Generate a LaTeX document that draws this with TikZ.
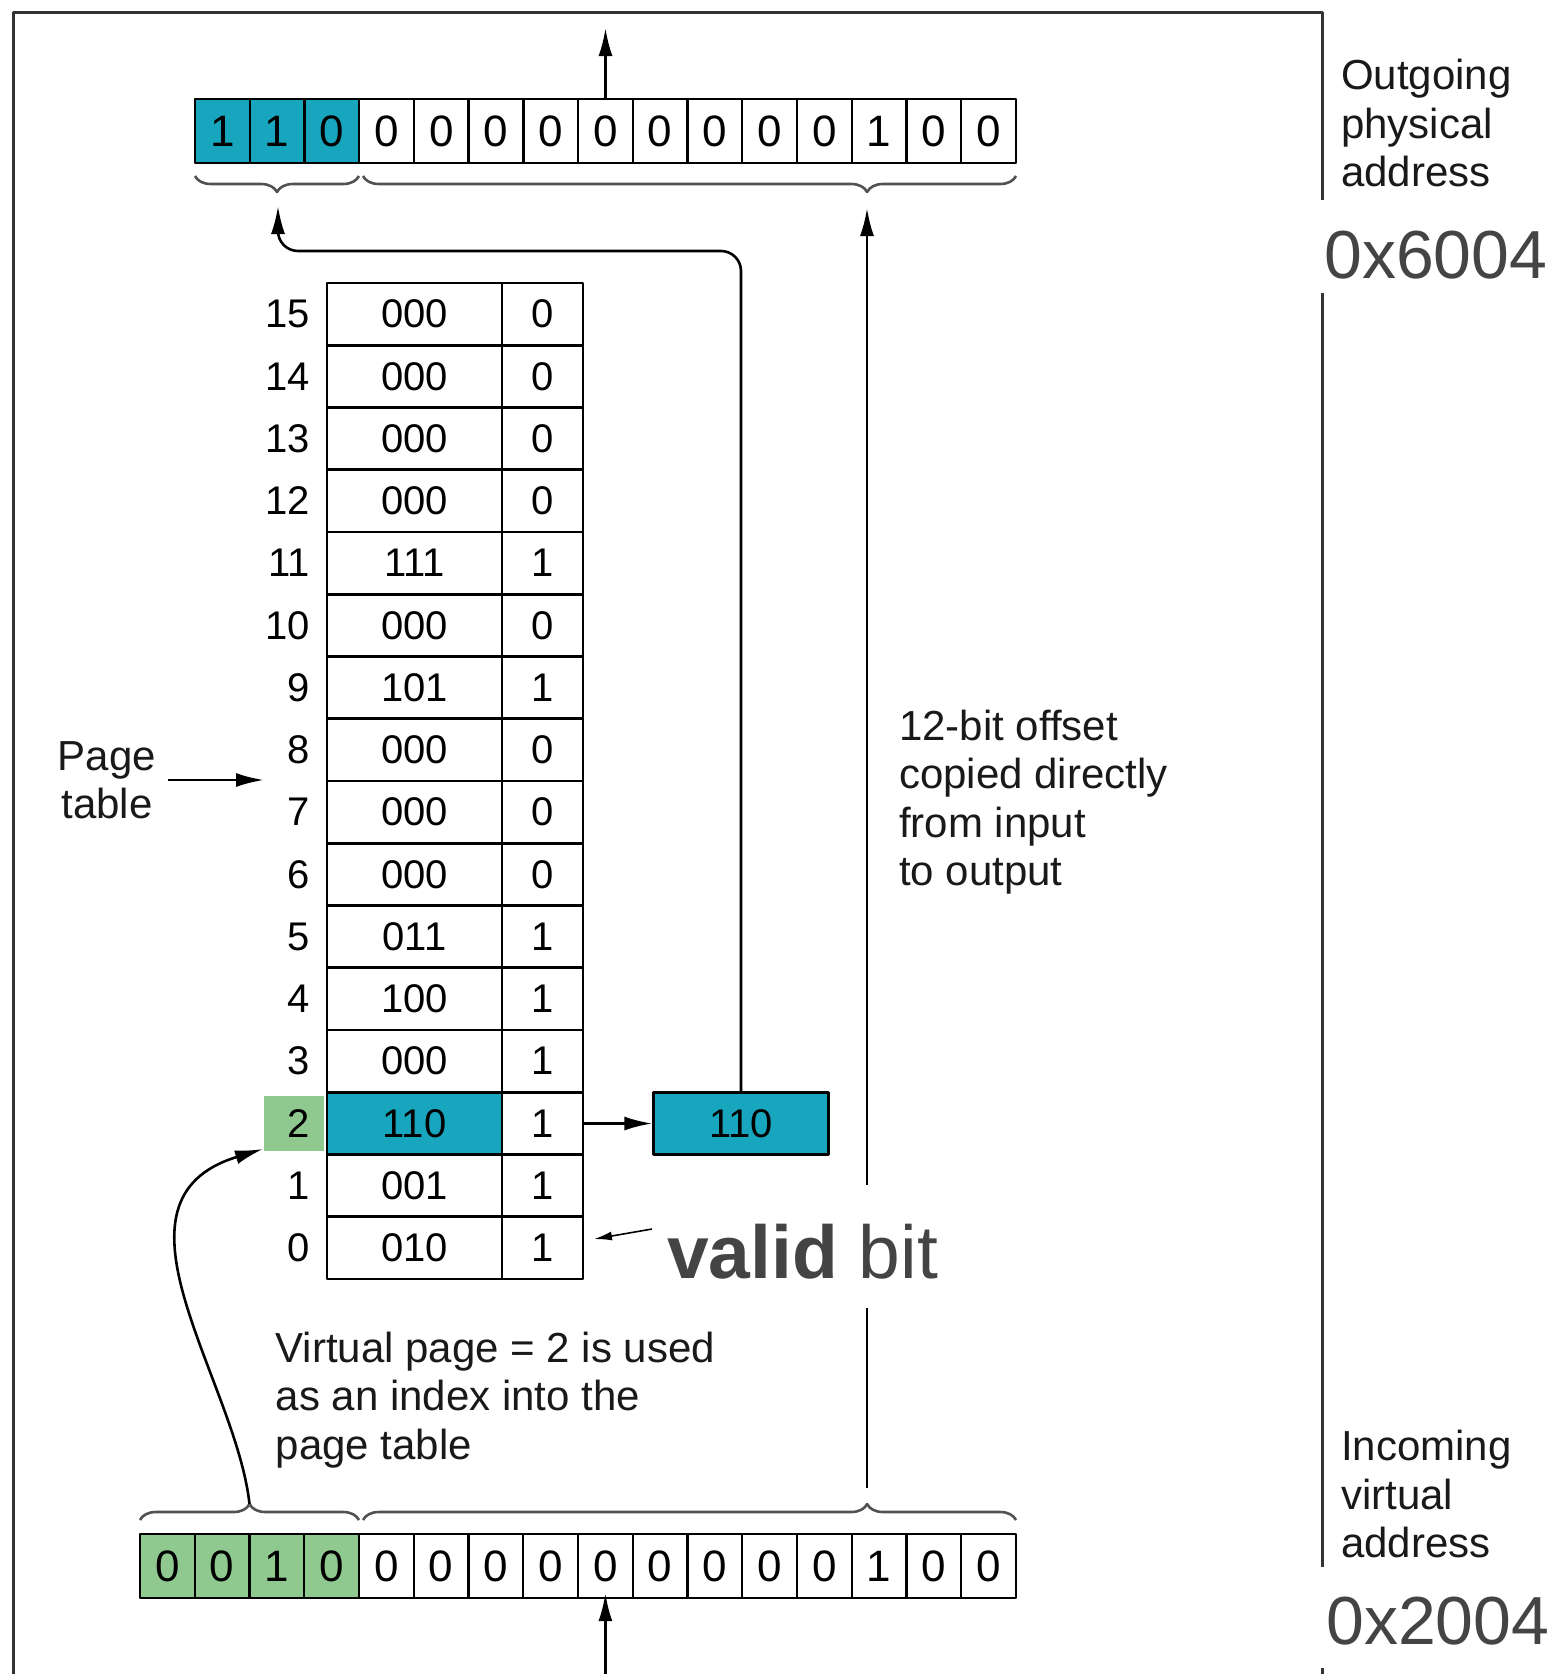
\documentclass[tikz,border=0pt]{standalone}
\usepackage{fontspec}
\setmainfont{Liberation Sans}
\usetikzlibrary{arrows.meta,decorations.pathreplacing}
\definecolor{tealhi}{RGB}{23,166,189}
\definecolor{greenhi}{RGB}{143,201,143}
\definecolor{hexgray}{RGB}{68,68,68}
\definecolor{framegray}{RGB}{51,51,51}
\begin{document}
\begin{tikzpicture}[x=1pt,y=-1pt,line join=round,
  cell/.style={draw=black,line width=2.3pt,minimum width=54.75pt,minimum height=64pt,inner sep=0pt,font=\fontsize{44}{44}\selectfont},
  pfn/.style={draw=black,line width=2.3pt,minimum width=175pt,minimum height=62.25pt,inner sep=0pt,font=\fontsize{40}{40}\selectfont},
  vbit/.style={pfn,minimum width=81pt},
  idx/.style={anchor=east,inner sep=0pt,font=\fontsize{40}{40}\selectfont},
  lbl/.style={anchor=west,align=left,inner sep=0pt,text=black!90,font=\fontsize{42}{48.5}\selectfont},
  hex/.style={anchor=base west,fill=white,inner xsep=6pt,inner ysep=0pt,text=hexgray,font=\fontsize{68}{68}\selectfont},
  arr/.style={-{Latex[length=28pt,width=14pt]},line width=2.6pt},
  brc/.style={decorate,decoration={brace,amplitude=16pt},draw=black!68,line width=2.6pt}]
\useasboundingbox (0,0) rectangle (1561,1674);
\draw[framegray,line width=3pt] (13,1674) -- (13,12) -- (1322,12) -- (1322,1674);
\fill[greenhi] (264,1096) rectangle (324,1151);
\draw[brc] (359,176) -- (195,176);
\draw[brc,decoration={aspect=0.228}] (1016,176) -- (363,176);
\draw[brc] (140,1520) -- (359,1520);
\draw[brc,decoration={aspect=0.772}] (363,1520) -- (1016,1520);
\coordinate (pagetip) at (278,206);
\coordinate (pagecorner) at (278,251);
\coordinate (offtip) at (867,208);
\coordinate (offtail) at (867,1488);
\coordinate (inbrace1) at (249.5,1504);
\coordinate (idxtip) at (263,1149);
\coordinate (outtop) at (605.5,28);
\coordinate (inbottom) at (605.4,1674);
\coordinate (ptarrow) at (264,780);
\coordinate (validtail) at (652,1229);
\node[cell,fill=tealhi] (out1) at (222.4,131) {1};
\node[cell,fill=tealhi] (out2) at (277.1,131) {1};
\node[cell,fill=tealhi] (out3) at (331.8,131) {0};
\node[cell] (out4) at (386.6,131) {0};
\node[cell] (out5) at (441.3,131) {0};
\node[cell] (out6) at (496.0,131) {0};
\node[cell] (out7) at (550.8,131) {0};
\node[cell] (out8) at (605.5,131) {0};
\node[cell] (out9) at (660.2,131) {0};
\node[cell] (out10) at (714.9,131) {0};
\node[cell] (out11) at (769.7,131) {0};
\node[cell] (out12) at (824.4,131) {0};
\node[cell] (out13) at (879.1,131) {1};
\node[cell] (out14) at (933.9,131) {0};
\node[cell] (out15) at (988.6,131) {0};
\node[cell,fill=greenhi] (in0) at (167.4,1566) {0};
\node[cell,fill=greenhi] (in1) at (222.1,1566) {0};
\node[cell,fill=greenhi] (in2) at (276.9,1566) {1};
\node[cell,fill=greenhi] (in3) at (331.6,1566) {0};
\node[cell] (in4) at (386.4,1566) {0};
\node[cell] (in5) at (441.1,1566) {0};
\node[cell] (in6) at (495.9,1566) {0};
\node[cell] (in7) at (550.6,1566) {0};
\node[cell] (in8) at (605.4,1566) {0};
\node[cell] (in9) at (660.1,1566) {0};
\node[cell] (in10) at (714.9,1566) {0};
\node[cell] (in11) at (769.6,1566) {0};
\node[cell] (in12) at (824.4,1566) {0};
\node[cell] (in13) at (879.1,1566) {1};
\node[cell] (in14) at (933.9,1566) {0};
\node[cell] (in15) at (988.6,1566) {0};
\node[idx] (pt15idx) at (310,314) {15}; \node[pfn] (pt15pfn) at (414.5,314) {000}; \node[vbit] (pt15v) at (542.5,314) {0};
\node[idx] (pt14idx) at (310,376.5) {14}; \node[pfn] (pt14pfn) at (414.5,376.5) {000}; \node[vbit] (pt14v) at (542.5,376.5) {0};
\node[idx] (pt13idx) at (310,438.5) {13}; \node[pfn] (pt13pfn) at (414.5,438.5) {000}; \node[vbit] (pt13v) at (542.5,438.5) {0};
\node[idx] (pt12idx) at (310,501) {12}; \node[pfn] (pt12pfn) at (414.5,501) {000}; \node[vbit] (pt12v) at (542.5,501) {0};
\node[idx] (pt11idx) at (310,563) {11}; \node[pfn] (pt11pfn) at (414.5,563) {111}; \node[vbit] (pt11v) at (542.5,563) {1};
\node[idx] (pt10idx) at (310,625.5) {10}; \node[pfn] (pt10pfn) at (414.5,625.5) {000}; \node[vbit] (pt10v) at (542.5,625.5) {0};
\node[idx] (pt9idx) at (310,687.5) {9}; \node[pfn] (pt9pfn) at (414.5,687.5) {101}; \node[vbit] (pt9v) at (542.5,687.5) {1};
\node[idx] (pt8idx) at (310,750) {8}; \node[pfn] (pt8pfn) at (414.5,750) {000}; \node[vbit] (pt8v) at (542.5,750) {0};
\node[idx] (pt7idx) at (310,812) {7}; \node[pfn] (pt7pfn) at (414.5,812) {000}; \node[vbit] (pt7v) at (542.5,812) {0};
\node[idx] (pt6idx) at (310,874.5) {6}; \node[pfn] (pt6pfn) at (414.5,874.5) {000}; \node[vbit] (pt6v) at (542.5,874.5) {0};
\node[idx] (pt5idx) at (310,936.5) {5}; \node[pfn] (pt5pfn) at (414.5,936.5) {011}; \node[vbit] (pt5v) at (542.5,936.5) {1};
\node[idx] (pt4idx) at (310,999) {4}; \node[pfn] (pt4pfn) at (414.5,999) {100}; \node[vbit] (pt4v) at (542.5,999) {1};
\node[idx] (pt3idx) at (310,1061) {3}; \node[pfn] (pt3pfn) at (414.5,1061) {000}; \node[vbit] (pt3v) at (542.5,1061) {1};
\node[idx] (pt2idx) at (310,1123.5) {2}; \node[pfn,fill=tealhi] (pt2pfn) at (414.5,1123.5) {110}; \node[vbit] (pt2v) at (542.5,1123.5) {1};
\node[idx] (pt1idx) at (310,1185.5) {1}; \node[pfn] (pt1pfn) at (414.5,1185.5) {001}; \node[vbit] (pt1v) at (542.5,1185.5) {1};
\node[idx] (pt0idx) at (310,1248) {0}; \node[pfn] (pt0pfn) at (414.5,1248) {010}; \node[vbit] (pt0v) at (542.5,1248) {1};
\node[pfn,fill=tealhi] (pfnout) at (741,1123.5) {110};
\node[lbl,align=center,anchor=center] (ptlbl) at (107,780) {Page\\table};
\draw[arr] (pt2v) -- (pfnout);
\draw[arr,rounded corners=20pt] (pfnout.north) |- (pagecorner) -- (pagetip);
\draw[arr] (offtail) -- (offtip);
\draw[arr] (out8) -- (outtop);
\draw[arr,shorten >=-6pt] (inbottom) -- (in8);
\draw[arr,shorten <=12pt] (ptlbl) -- (ptarrow);
\draw[arr] (inbrace1) .. controls (236,1380) and (95,1200) .. (idxtip);
\draw[-{Latex[length=18pt,width=9pt]},line width=1.6pt,shorten >=10pt] (validtail) -- (pt0v);
\node[anchor=base west,fill=white,inner xsep=2pt,inner ysep=0pt,text height=93pt,text depth=30pt,text=hexgray,font=\fontsize{75}{75}\selectfont] (validlbl) at (665,1278) {\textbf{valid} bit};
\node[hex,text height=78pt,text depth=15pt] (physhex) at (1318,278) {0x6004};
\node[hex,text height=77pt,text depth=24pt] (virthex) at (1320,1644) {0x2004};
\node[lbl] (physlbl) at (1341,123) {Outgoing\\physical\\address};
\node[lbl] (virtlbl) at (1341,1494) {Incoming\\virtual\\address};
\node[lbl] (offlbl) at (899,802) {12-bit offset\\copied directly\\from input\\to output};
\node[lbl] (idxlbl) at (275.5,1400) {Virtual page = 2 is used\\as an index into the\\page table};
\end{tikzpicture}
\end{document}
